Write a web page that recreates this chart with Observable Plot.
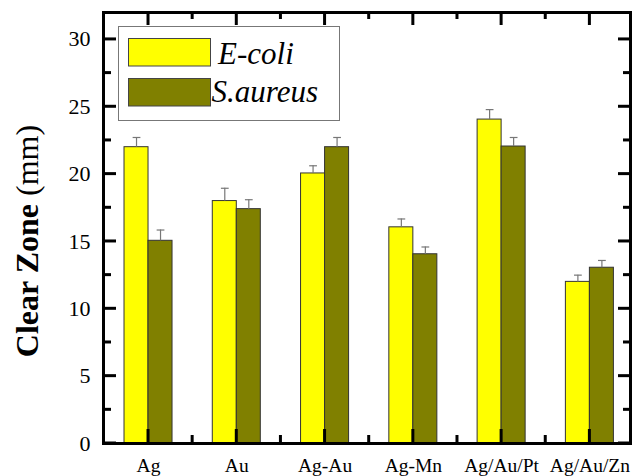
<!DOCTYPE html>
<html><head><meta charset="utf-8">
<script src="https://cdn.jsdelivr.net/npm/d3@7"></script>
<script src="https://cdn.jsdelivr.net/npm/@observablehq/plot@0.6"></script>
<style>body{margin:0;background:#fff} #chart{width:638px;height:476px}</style>
</head><body><div id="chart"></div>
<script>
const categories = ["Ag", "Au", "Ag-Au", "Ag-Mn", "Ag/Au/Pt", "Ag/Au/Zn"];
const series = ["E-coli", "S.aureus"];
const ecoli = [22.0, 18.0, 20.05, 16.05, 24.05, 12.0];
const ecoliErr = [0.72, 0.95, 0.57, 0.62, 0.74, 0.5];
const saureus = [15.05, 17.4, 22.0, 14.05, 22.05, 13.05];
const saureusErr = [0.8, 0.7, 0.72, 0.54, 0.67, 0.54];
const colors = ["#ffff00", "#808000"];
const yMajor = [0, 5, 10, 15, 20, 25, 30];
const yMinor = [2.5, 7.5, 12.5, 17.5, 22.5, 27.5];

(function () {
const W = 638, H = 476, mL = 103, mR = 8, mT = 12, mB = 33;
const barW = 0.272;
const capHalf = 0.044;
const xDomain = [0.49, 6.46];
const yDomain = [0, 32];
const xMajor = categories.map((c, i) => i + 1);
const xMinor = categories.slice(0, -1).map((c, i) => i + 1.5);

const rows = [];
categories.forEach((c, i) => {
  rows.push({cat: c, series: series[0], value: ecoli[i], err: ecoliErr[i], x1: i + 1 - barW, x2: i + 1});
  rows.push({cat: c, series: series[1], value: saureus[i], err: saureusErr[i], x1: i + 1, x2: i + 1 + barW});
});
const cx = d => (d.x1 + d.x2) / 2;

const font = "'Liberation Serif', 'Times New Roman', serif";

const svg = Plot.plot({
  width: W,
  height: H,
  marginLeft: mL,
  marginRight: mR,
  marginTop: mT,
  marginBottom: mB,
  style: {fontFamily: font, background: "#fff", color: "#000"},
  x: {type: "linear", domain: xDomain},
  y: {domain: yDomain},
  color: {domain: series, range: colors},
  marks: [
    Plot.rect(rows, {x1: "x1", x2: "x2", y1: 0, y2: "value", fill: "series", stroke: "#333", strokeWidth: 1}),
    Plot.ruleX(rows, {x: cx, y1: "value", y2: d => d.value + d.err, stroke: "#777", strokeWidth: 1.2}),
    Plot.link(rows, {x1: d => cx(d) - capHalf, x2: d => cx(d) + capHalf, y1: d => d.value + d.err, y2: d => d.value + d.err, stroke: "#777", strokeWidth: 1.2}),
    Plot.axisY({anchor: "left", ticks: yMajor, tickSize: 0, tickPadding: 13, fontSize: 22, label: null}),
    Plot.axisX({anchor: "bottom", ticks: xMajor, tickFormat: v => categories[Math.round(v) - 1], tickSize: 0, tickPadding: 15, fontSize: 19.5, label: null}),
    Plot.frame({stroke: "#000", strokeWidth: 3})
  ]
});

const s = d3.select(svg);
const xs = svg.scale("x"), ys = svg.scale("y");
const fLeft = mL, fRight = W - mR, fTop = mT, fBottom = H - mB;

// inward ticks on all four sides, positioned through Plot's scales
const tg = s.append("g").attr("stroke", "#000").attr("stroke-width", 3);
const hTicks = (vals, x0, len) => vals.forEach(v => {
  const y = ys.apply(v);
  tg.append("line").attr("x1", x0).attr("x2", x0 + len).attr("y1", y).attr("y2", y);
});
const vTicks = (vals, y0, len) => vals.forEach(v => {
  const x = xs.apply(v);
  tg.append("line").attr("x1", x).attr("x2", x).attr("y1", y0).attr("y2", y0 + len);
});
hTicks(yMajor, fLeft, 13);
hTicks(yMinor, fLeft, 8);
hTicks(yMajor, fRight, -12);
hTicks(yMinor, fRight, -7);
vTicks(xMajor, fBottom, -14);
vTicks(xMinor, fBottom, -8);
vTicks(xMajor, fTop, 13);
vTicks(xMinor, fTop, 7);

// Y axis title
const t = s.append("text")
  .attr("transform", "translate(38,241) rotate(-90)")
  .attr("text-anchor", "middle")
  .attr("font-family", font)
  .attr("font-size", 32)
  .attr("fill", "#000");
t.append("tspan").attr("font-weight", "bold").text("Clear Zone ");
t.append("tspan").attr("font-weight", "normal").text("(mm)");

// Legend
const lg = s.append("g").attr("text-anchor", "start");
lg.append("rect").attr("x", 118.5).attr("y", 26.5).attr("width", 221).attr("height", 94)
  .attr("fill", "#fff").attr("stroke", "#777").attr("stroke-width", 1);
series.forEach((name, i) => {
  lg.append("rect").attr("x", 128.5).attr("y", 38.5 + i * 40).attr("width", 82).attr("height", 27.5)
    .attr("fill", colors[i]).attr("stroke", "#444").attr("stroke-width", 1);
  lg.append("text").attr("x", i === 0 ? 218 : 211.5).attr("y", 63.5 + i * 38.5)
    .attr("text-anchor", "start")
    .attr("font-family", font).attr("font-style", "italic").attr("font-size", 31)
    .attr("fill", "#000").text(name);
});

document.getElementById("chart").appendChild(svg);
})();
</script>
</body></html>
